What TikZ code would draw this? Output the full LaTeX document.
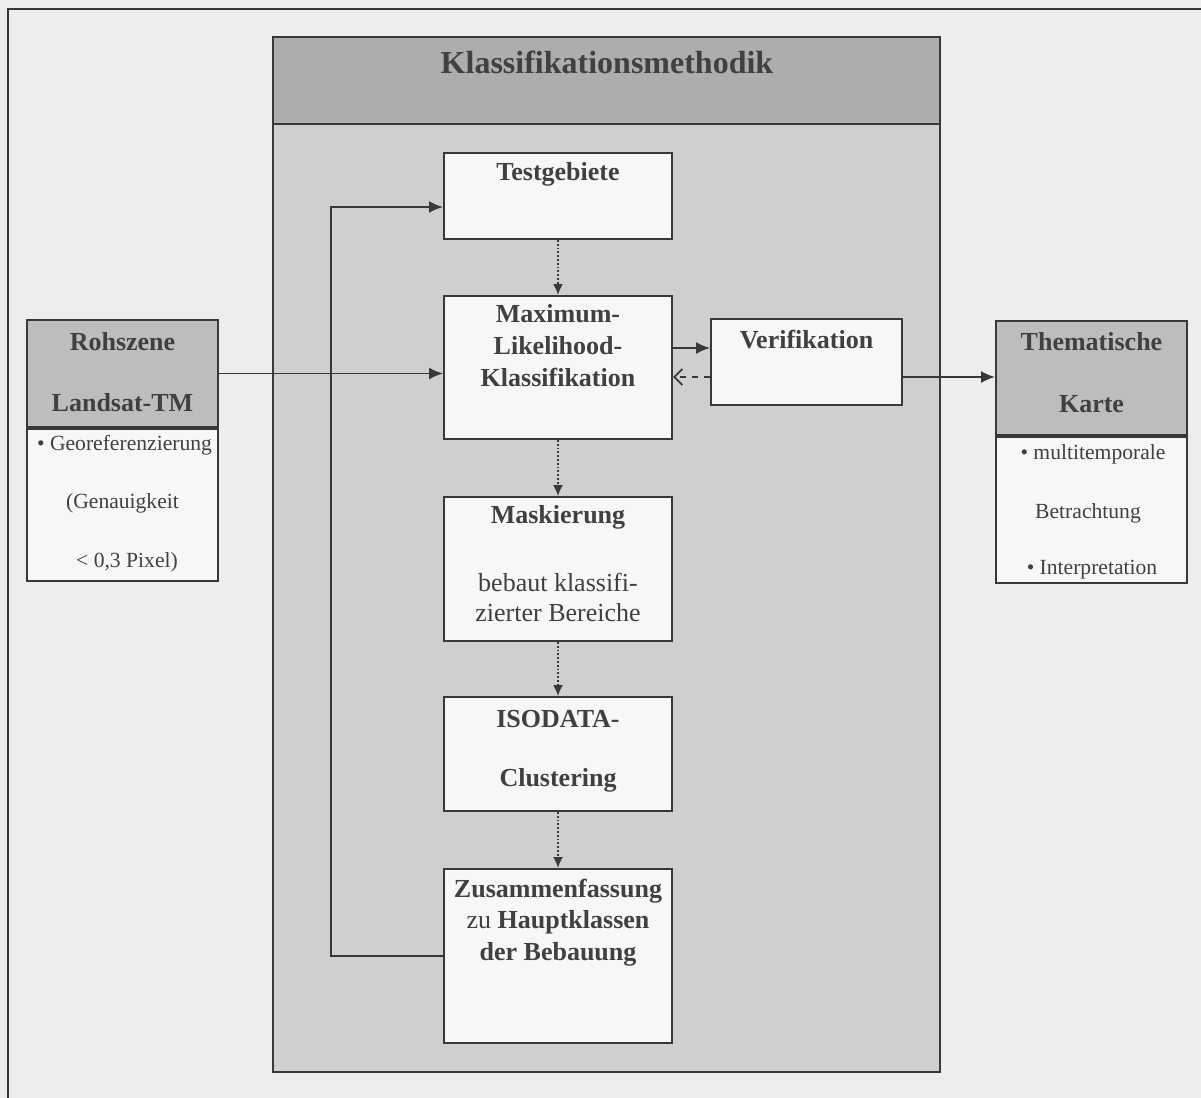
\documentclass[tikz,border=0pt]{standalone}
\usepackage{fontspec}
\setmainfont{Liberation Serif}
\usetikzlibrary{arrows.meta}
\definecolor{PaperGray}{gray}{0.93}
\definecolor{PanelGray}{gray}{0.81}
\definecolor{HeadGray}{gray}{0.68}
\definecolor{SideGray}{gray}{0.74}
\definecolor{BoxWhite}{gray}{0.97}
\definecolor{LineGray}{gray}{0.22}
\definecolor{InkGray}{gray}{0.25}
\tikzset{
  stepbox/.style={draw=LineGray,line width=1pt,fill=BoxWhite,
    minimum width=114pt,inner sep=0pt},
  sidehead/.style={draw=LineGray,line width=1pt,fill=SideGray,
    minimum width=95.5pt,inner sep=0pt},
  sidebody/.style={draw=LineGray,line width=1pt,fill=BoxWhite,
    minimum width=95.5pt,inner sep=0pt},
  boldtext/.style={font=\fontsize{13}{16}\selectfont\bfseries,
    align=center,text=InkGray,inner sep=0pt},
  plaintext/.style={font=\fontsize{13}{15}\selectfont,
    align=center,text=InkGray,inner sep=0pt},
  sidetext/.style={font=\fontsize{10.8}{13}\selectfont,
    text=InkGray,inner sep=0pt},
  arrow/.style={-{Latex[length=7pt,width=6pt]},line width=0.9pt,LineGray},
  flow/.style={-{Latex[length=5.5pt,width=5pt]},densely dotted,
    line width=0.9pt,LineGray},
  backflow/.style={-{Straight Barb[length=4pt,width=8pt]},dashed,
    line width=0.9pt,LineGray}
}
\begin{document}
\begin{tikzpicture}[x=0.5pt,y=-0.5pt]
  \useasboundingbox (0,0) rectangle (1201,1098);
  \fill[PaperGray] (0,0) rectangle (1201,1098);
  \draw[LineGray,line width=1.3pt] (8,1110) |- (1210,9);
  % Klassifikationsmethodik
  \node[draw=LineGray,line width=1pt,fill=PanelGray,minimum width=333.5pt,
    minimum height=517.5pt,inner sep=0pt] (panel) at (606.5,554.5) {};
  \node[draw=LineGray,line width=1pt,fill=HeadGray,minimum width=333.5pt,
    minimum height=43.5pt,inner sep=0pt,anchor=north] (panelhead) at (panel.north) {};
  \node[font=\fontsize{16}{18}\selectfont\bfseries,text=InkGray] (title) at (607,62) {Klassifikationsmethodik};
  % Schritte
  \node[stepbox,minimum height=43pt] (testg) at (558,196) {};
  \node[boldtext] (testg-t) at (558,174) {Testgebiete};
  \node[stepbox,minimum height=71.5pt] (mlk) at (558,367.5) {};
  \node[boldtext] (mlk-t) at (558,346) {Maximum-\\Likelihood-\\Klassifikation};
  \node[stepbox,minimum height=72pt] (mask) at (558,569) {};
  \node[boldtext] (mask-t) at (558,517) {Maskierung};
  \node[plaintext] (mask-s) at (558,597) {bebaut klassifi-\\zierter Bereiche};
  \node[stepbox,minimum height=57pt] (iso) at (558,754) {};
  \node[boldtext] (iso-t) at (558,719) {ISODATA-};
  \node[boldtext] (iso-s) at (558,780) {Clustering};
  \node[stepbox,minimum height=87pt] (zus) at (558,956) {};
  \node[boldtext,font=\fontsize{13}{15.75}\selectfont] (zus-t) at (558,922.5)
    {\textbf{Zusammenfassung}\\zu \textbf{Hauptklassen}\\\textbf{der Bebauung}};
  \node[stepbox,minimum width=95.5pt,minimum height=43pt] (verif) at (806.5,362) {};
  \node[boldtext] (verif-t) at (806.5,340) {Verifikation};
  % Rohszene
  \node[sidehead,minimum height=53.5pt] (roh) at (122.5,373.5) {};
  \node[sidebody,minimum height=76pt,anchor=north] (rohbody) at (roh.south) {};
  \node[boldtext] (roh-t) at (122.5,342) {Rohszene};
  \node[boldtext] (roh-s) at (122.5,403) {Landsat-TM};
  \node[sidetext] (roh-a) at (124.5,445) {• Georeferenzierung};
  \node[sidetext] (roh-b) at (122.5,503) {(Genauigkeit};
  \node[sidetext] (roh-c) at (127,562) {< 0,3 Pixel)};
  % Thematische Karte
  \node[sidehead,minimum height=57pt] (karte) at (1091.5,378) {};
  \node[sidebody,minimum height=73pt,anchor=north] (kartebody) at (karte.south) {};
  \node[boldtext] (karte-t) at (1091.5,342) {Thematische};
  \node[boldtext] (karte-s) at (1091.5,404) {Karte};
  \node[sidetext] (karte-a) at (1093,454) {• multitemporale};
  \node[sidetext] (karte-b) at (1088,513) {Betrachtung};
  \node[sidetext] (karte-c) at (1092,570) {• Interpretation};
  % Verbindungen
  \coordinate (loop) at (331,600);
  \draw[arrow] (roh.east) -- (roh.east -| mlk.west);
  \draw[flow] (testg.south) -- (mlk.north);
  \draw[flow] (mlk.south) -- (mask.north);
  \draw[flow] (mask.south) -- (iso.north);
  \draw[flow] (iso.south) -- (zus.north);
  \draw[arrow] ([yshift=7pt]verif.west -| mlk.east) -- ([yshift=7pt]verif.west);
  \draw[backflow] ([yshift=-7.5pt]verif.west) -- ([yshift=-7.5pt]verif.west -| mlk.east);
  \draw[arrow] ([yshift=-7.5pt]verif.east) -- ([yshift=-7.5pt]verif.east -| karte.west);
  \draw[arrow] (zus.west) -| (loop) |- ([yshift=-5.5pt]testg.west);
\end{tikzpicture}
\end{document}
